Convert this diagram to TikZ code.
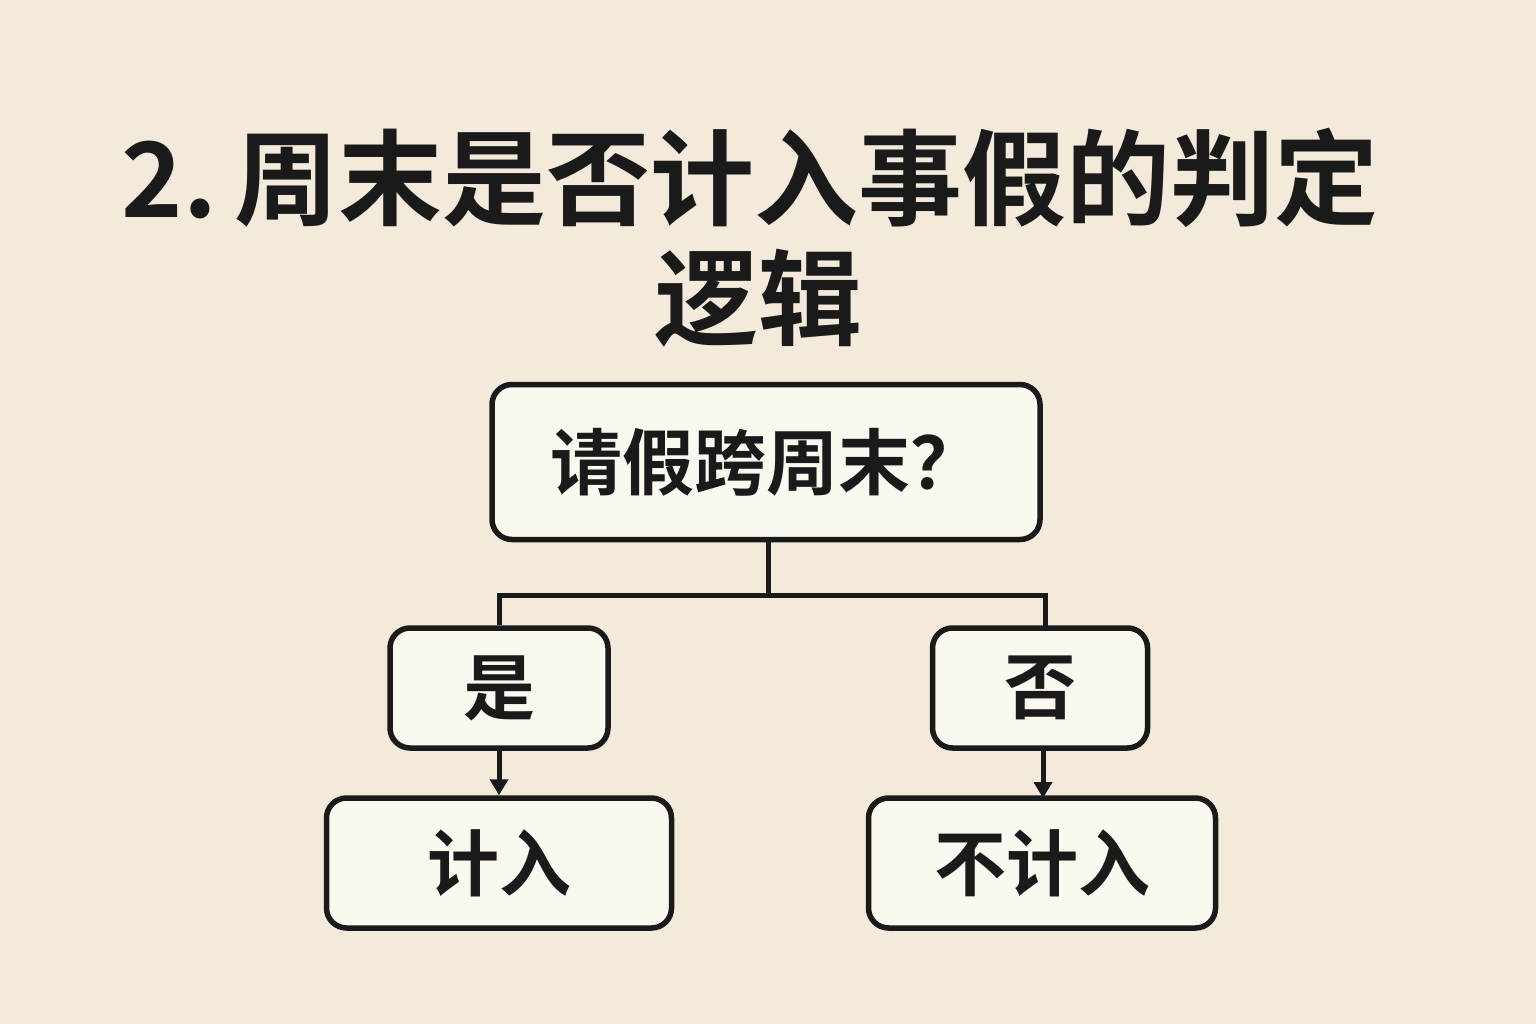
\documentclass[tikz,border=0pt]{standalone}
\usepackage{fontspec}
\newfontfamily\cjk{Noto Sans CJK SC}[BoldFont={Noto Sans CJK SC Bold}]
\usetikzlibrary{arrows.meta}
\definecolor{bg}{HTML}{F3EADB}
\definecolor{bx}{HTML}{FBF8F0}
\definecolor{ink}{HTML}{1A1A1A}
\tikzset{
  box/.style={draw=ink,line width=5.5pt,fill=bx,rounded corners=20pt,inner sep=0pt,font=\cjk\bfseries\fontsize{72}{80}\selectfont,text=ink},
  wire/.style={draw=ink,line width=5pt},
  arr/.style={wire,-{Triangle[length=16pt,width=18pt]}}
}
\begin{document}
\begin{tikzpicture}[x=1pt,y=-1pt]
\fill[bg] (0,0) rectangle (1536,1024);
\useasboundingbox (0,0) rectangle (1536,1024);
\node[font=\cjk\bfseries\fontsize{104}{110}\selectfont,text=ink] (t1) at (750,178) {2.\,周末是否计入事假的判定};
\node[font=\cjk\bfseries\fontsize{104}{110}\selectfont,text=ink] (t2) at (758,298) {逻辑};
\node[box,minimum width=548pt,minimum height=155pt] (q) at (766,462) {请假跨周末？};
\node[box,minimum width=218pt,minimum height=120pt] (y) at (499,688) {是};
\node[box,minimum width=215pt,minimum height=120pt] (n) at (1040,688) {否};
\node[box,minimum width=345pt,minimum height=130pt] (a) at (499,863) {计入};
\node[box,minimum width=347pt,minimum height=130pt] (b) at (1042,863) {不计入};
\coordinate (m) at (768,595);
\draw[wire] (q.south -| m) -- (m);
\draw[wire] (y.north) -- (499,595) -- (1045,595) -- (1045,628);
\draw[arr] (y.south) -- (a.north);
\draw[arr] (1043,748) -- (1043,798);
\end{tikzpicture}
\end{document}
